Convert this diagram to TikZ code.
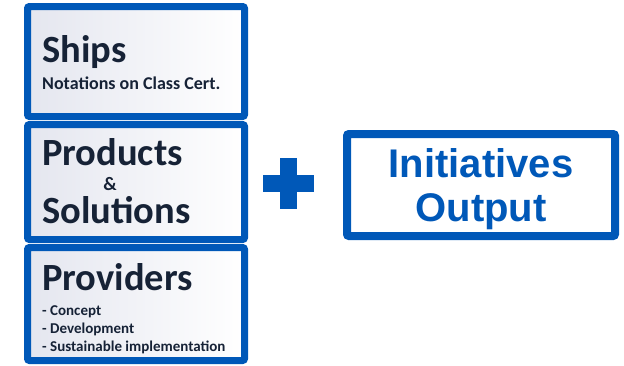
\documentclass[tikz,border=0pt]{standalone}
\usepackage{fontspec}
\setmainfont{Carlito}
\newfontfamily\arialfont{Liberation Sans}
\newlength{\du}
\setlength{\du}{1pt}
\definecolor{boxblue}{RGB}{0,88,184}
\definecolor{boxtext}{RGB}{22,34,54}
\definecolor{boxshade}{RGB}{228,230,239}
\tikzset{
  stackbox/.style={draw=boxblue, line width=7\du, rounded corners=2\du, inner sep=0pt,
    minimum width=217\du, left color=boxshade, right color=white},
  outbox/.style={draw=boxblue, line width=8\du, rounded corners=2\du, inner sep=0pt,
    minimum width=268\du, minimum height=102\du, fill=white},
  bigtitle/.style={anchor=base west, inner sep=0pt, text=boxtext, text height=27\du,
    font=\bfseries\fontsize{38.5}{38.5}\selectfont},
  smalltext/.style={anchor=base west, inner sep=0pt, text=boxtext, font=\bfseries\fontsize{18}{18}\selectfont},
  listtext/.style={anchor=base west, inner sep=0pt, text=boxtext, font=\bfseries\fontsize{15}{15}\selectfont},
  outtitle/.style={anchor=base, inner sep=0pt, text=boxblue, font=\arialfont\bfseries\fontsize{40}{40}\selectfont},
}
\begin{document}
\begin{tikzpicture}[x=1\du, y=-1\du]
\useasboundingbox (0,0) rectangle (624,365);
% left stack
\node[stackbox, minimum height=110\du] (ships) at (136,61.5) {};
\node[stackbox, minimum height=115\du] (products) at (136,182) {};
\node[stackbox, minimum height=113\du] (providers) at (136,304) {};
\node[bigtitle] (shipstitle) at (42,62) {Ships};
\node[smalltext] (shipsnote) at (42,89) {Notations on Class Cert.};
\node[bigtitle] (prodtitle) at (42,165) {Products};
\node[smalltext, anchor=base, text depth=0pt, font=\bfseries\fontsize{19}{19}\selectfont] (amp) at (110,190) {\&};
\node[bigtitle] (soltitle) at (42,223) {Solutions};
\node[bigtitle] (provtitle) at (42,290) {Providers};
\node[listtext] (concept) at (42,315) {- Concept};
\node[listtext] (develop) at (42,333) {- Development};
\node[listtext] (sustain) at (42,351) {- Sustainable implementation};
% plus
\fill[boxblue] (263,175) rectangle (314,192);
\fill[boxblue] (280,158) rectangle (297,209);
% right box
\node[outbox] (output) at (481,185) {};
\node[outtitle] (initiatives) at (481,177) {Initiatives};
\node[outtitle] (outtext) at (481,221) {Output};
\end{tikzpicture}
\end{document}
